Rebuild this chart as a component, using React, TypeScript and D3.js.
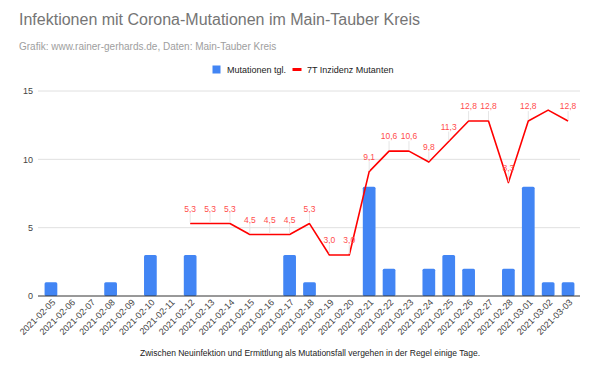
import React from "react";
import * as d3 from "d3";

const dates = [
  "2021-02-05","2021-02-06","2021-02-07","2021-02-08","2021-02-09","2021-02-10","2021-02-11",
  "2021-02-12","2021-02-13","2021-02-14","2021-02-15","2021-02-16","2021-02-17","2021-02-18",
  "2021-02-19","2021-02-20","2021-02-21","2021-02-22","2021-02-23","2021-02-24","2021-02-25",
  "2021-02-26","2021-02-27","2021-02-28","2021-03-01","2021-03-02","2021-03-03",
];
const dailyMutations = [1,0,0,1,0,3,0,3,0,0,0,0,3,1,0,0,8,2,0,2,3,2,0,2,8,1,1];
const incidence7T: (number | null)[] = [
  null,null,null,null,null,null,null,
  5.3,5.3,5.3,4.5,4.5,4.5,5.3,3.0,3.0,9.1,10.6,10.6,9.8,11.3,12.8,12.8,8.3,12.8,13.6,12.8,
];
const labelShown = [
  false,false,false,false,false,false,false,
  true,true,true,true,true,true,true,true,true,true,true,true,true,true,true,true,true,true,false,true,
];
const yTicks = [0, 5, 10, 15];

const title = "Infektionen mit Corona-Mutationen im Main-Tauber Kreis";
const subtitle = "Grafik: www.rainer-gerhards.de, Daten: Main-Tauber Kreis";
const caption = "Zwischen Neuinfektion und Ermittlung als Mutationsfall vergehen in der Regel einige Tage.";
const legendBar = "Mutationen tgl.";
const legendLine = "7T Inzidenz Mutanten";

const FONT = "'Liberation Sans', Arial, sans-serif";

export default function App() {
  const W = 600, H = 376;
  const x = d3.scaleBand<string>().domain(dates).range([41, 578]).paddingInner(0.36).paddingOuter(0.18);
  const y = d3.scaleLinear().domain([0, 15]).range([296, 91]);
  const cx = (d: string) => (x(d) ?? 0) + x.bandwidth() / 2;

  const line = d3
    .line<number | null>()
    .defined((d) => d !== null)
    .x((_, i) => cx(dates[i]))
    .y((d) => y(d as number));

  const fmt = (v: number) => v.toFixed(1).replace(".", ",");

  return (
    <svg width={W} height={H} style={{ position: "absolute", left: 0, top: 0, fontFamily: FONT }}>
      <rect x={0} y={0} width={W} height={H} fill="#fff" />
      <text x={19} y={25} fontSize={16} fill="#757575">{title}</text>
      <text x={19} y={50} fontSize={10} fill="#9e9e9e">{subtitle}</text>

      {/* legend */}
      <rect x={212.5} y={65.5} width={8} height={8} fill="#4285f4" />
      <text x={227} y={72.5} fontSize={9} fill="#222">{legendBar}</text>
      <rect x={292.5} y={68} width={9} height={3} fill="#ff0000" />
      <text x={307} y={72.5} fontSize={9} fill="#222">{legendLine}</text>

      {/* grid */}
      {yTicks.map((t) => (
        <g key={t}>
          {t !== 0 && <line x1={38} x2={580} y1={y(t)} y2={y(t)} stroke="#e0e0e0" strokeWidth={1} />}
          <text x={33} y={y(t) + 3.2} fontSize={9} textAnchor="end" fill="#444">{t}</text>
        </g>
      ))}

      {/* bars */}
      {dailyMutations.map((v, i) =>
        v > 0 ? (
          <rect key={i} x={x(dates[i])} y={y(v)} width={x.bandwidth()} height={y(0) - y(v)} fill="#4285f4" rx={1.5} />
        ) : null
      )}
      <line x1={38} x2={580} y1={y(0)} y2={y(0)} stroke="#333" strokeWidth={1} />

      {/* line */}
      <path d={line(incidence7T) ?? ""} fill="none" stroke="#ff0000" strokeWidth={1.6} strokeLinejoin="round" />

      {/* data labels */}
      {incidence7T.map((v, i) =>
        v !== null && labelShown[i] ? (
          <g key={i}>
            <line x1={cx(dates[i])} x2={cx(dates[i])} y1={y(v) - 10} y2={y(v) - 1} stroke="#e6e6e6" strokeWidth={1} />
            <text x={cx(dates[i])} y={y(v) - 12} fontSize={8.5} textAnchor="middle" fill="#ff4d4d">{fmt(v)}</text>
          </g>
        ) : null
      )}

      {/* x labels */}
      {dates.map((d) => (
        <text key={d} transform={`translate(${cx(d) + 5},${303}) rotate(-45)`} fontSize={9} textAnchor="end" fill="#444">{d}</text>
      ))}

      <text x={310} y={356} fontSize={8.5} textAnchor="middle" fill="#222">{caption}</text>
    </svg>
  );
}
